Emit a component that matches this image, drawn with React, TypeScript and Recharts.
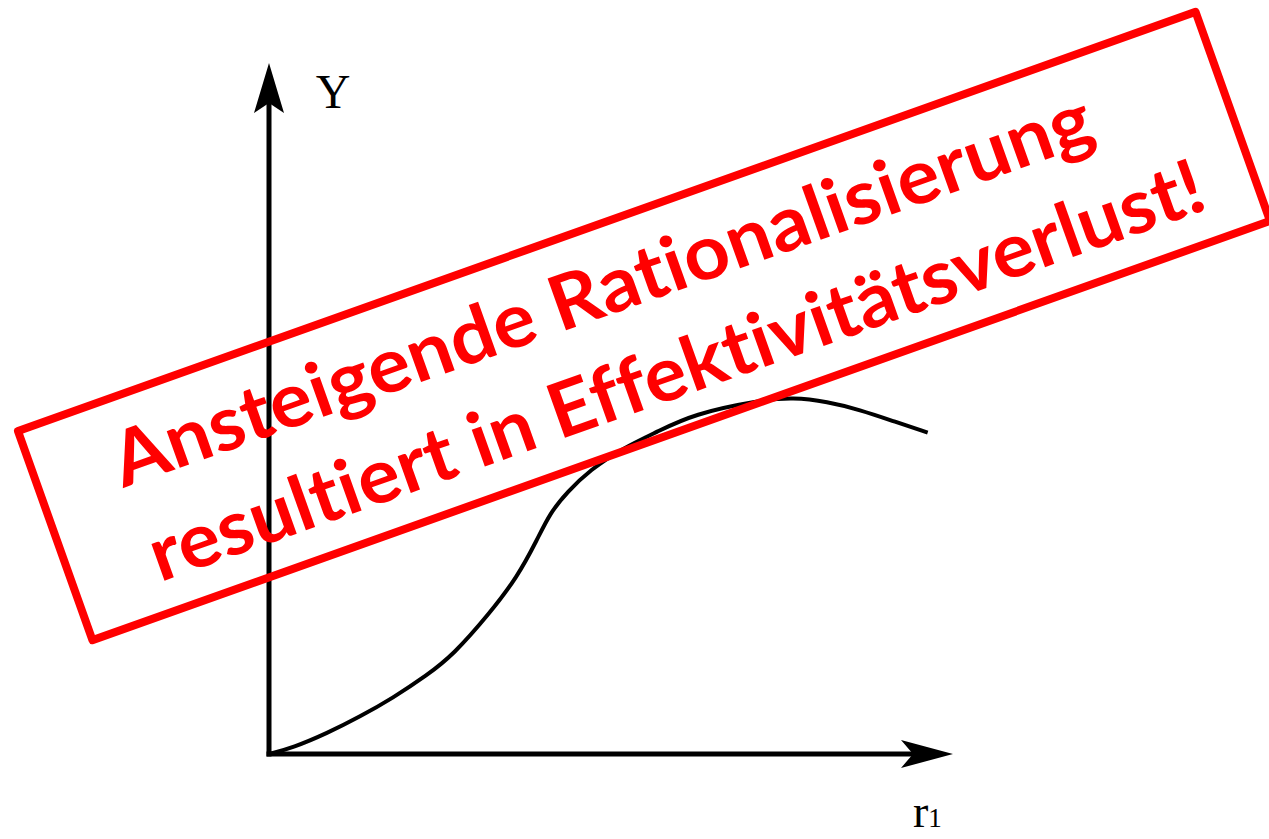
import React from 'react';
import { LineChart, Line, XAxis, YAxis, ReferenceLine, ReferenceDot } from 'recharts';

// curve (x = r1, y = Y, both on a 0..100 scale)
const rValues = [0, 3.5, 8.5, 13.3, 18.1, 23.1, 26.9, 32.3, 36.3, 39.2, 41.1, 43.6, 46.9, 51.8, 56.7, 62.0, 71.8, 76.6, 81.6, 86.4, 91.2, 96.3];
const yValues = [0, 0.9, 3.0, 5.4, 8.1, 11.4, 14.3, 20.4, 25.6, 31.0, 34.9, 37.9, 41.1, 44.3, 46.6, 49.2, 51.2, 51.6, 51.0, 49.8, 48.2, 46.5];

const yLabel = 'Y';
const xLabel = 'r';
const xLabelSub = '1';
const stampLines = ['Ansteigende Rationalisierung', 'resultiert in Effektivitätsverlust!'];

const data = rValues.map((x, i) => ({ x, y: yValues[i] }));

const W = 1269;
const H = 839;

// arrow heads, tip at (cx, cy)
const ArrowRight = (props: any) => {
    const { cx, cy } = props;
    return <polygon points={`${cx},${cy} ${cx - 52},${cy - 14} ${cx - 40},${cy} ${cx - 52},${cy + 14}`} fill="#000" />;
};
const ArrowUp = (props: any) => {
    const { cx, cy } = props;
    return <polygon points={`${cx},${cy} ${cx - 15},${cy + 50} ${cx},${cy + 40} ${cx + 15},${cy + 50}`} fill="#000" />;
};

const stampText = { fontFamily: 'Lato', fontWeight: 700, fontSize: 76, fill: '#ff0000', style: { fontVariantLigatures: 'none' as const } };

export default function App() {
    return (
        <div style={{ position: 'absolute', left: 0, top: 0, width: W, height: H, background: '#fff' }}>
            <LineChart width={W} height={H} data={data}
                margin={{ top: 63, right: 316, left: 269, bottom: 85 }}>
                <XAxis type="number" dataKey="x" domain={[0, 100]} hide />
                <YAxis type="number" domain={[0, 100]} hide />
                <ReferenceLine segment={[{ x: 0, y: 0 }, { x: 94, y: 0 }]} stroke="#000" strokeWidth={5} strokeLinecap="square" />
                <ReferenceLine segment={[{ x: 0, y: 0 }, { x: 0, y: 94 }]} stroke="#000" strokeWidth={5} strokeLinecap="square" />
                <ReferenceDot x={100} y={0} r={1} shape={ArrowRight} />
                <ReferenceDot x={0} y={100} r={1} shape={ArrowUp} />
                <Line type="basis" dataKey="y" stroke="#000" strokeWidth={4} dot={false} activeDot={false} isAnimationActive={false} />
            </LineChart>
            <svg width={W} height={H} style={{ position: 'absolute', left: 0, top: 0, pointerEvents: 'none' }}>
                <text x={333} y={108} textAnchor="middle" fontFamily="Liberation Serif" fontSize={48} fill="#000">{yLabel}</text>
                <text x={913} y={827} fontFamily="Liberation Serif" fontSize={46} fill="#000">
                    {xLabel}<tspan fontSize={27}>{xLabelSub}</tspan>
                </text>
                <g transform="translate(644,326) rotate(-19.6)">
                    <rect x={-625} y={-111} width={1250} height={222} fill="none" stroke="#ff0000" strokeWidth={8} strokeLinejoin="round" />
                    <text x={-545} y={-22} {...stampText} textLength={1035} lengthAdjust="spacingAndGlyphs">{stampLines[0]}</text>
                    <text x={-542} y={79} {...stampText} textLength={1115} lengthAdjust="spacingAndGlyphs">{stampLines[1]}</text>
                </g>
            </svg>
        </div>
    );
}
